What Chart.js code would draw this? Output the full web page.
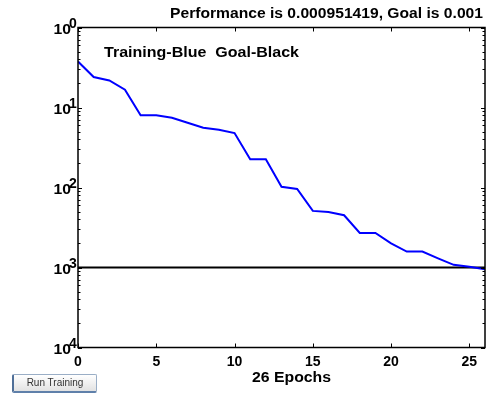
<!DOCTYPE html>
<html>
<head>
<meta charset="utf-8">
<script src="https://cdn.jsdelivr.net/npm/chart.js@4"></script>
<style>
  body { margin: 0; background: #fff; }
  #wrap { position: relative; width: 488px; height: 397px; }
  #runBtn {
    position: absolute; left: 12px; top: 374px; width: 85px; height: 19px;
    border: 1px solid #9aaec6; border-left: 2px solid #4f6f98; border-bottom: 2px solid #5f80aa;
    border-radius: 2px;
    background: linear-gradient(#ffffff, #e2e2e2);
    font: 10px "Liberation Sans", Arial, sans-serif; color: #333;
    text-align: center; line-height: 16px; box-sizing: border-box;
  }
</style>
</head>
<body>
<div id="wrap">
  <canvas id="perfChart" width="488" height="397"></canvas>
  <div id="runBtn">Run Training</div>
</div>
<script>
// data
const epochs = [0, 1, 2, 3, 4, 5, 6, 7, 8, 9, 10, 11, 12, 13, 14, 15, 16, 17, 18, 19, 20, 21, 22, 23, 24, 25, 26];
const performance = [0.376, 0.24, 0.218, 0.167, 0.080, 0.080, 0.0745, 0.0646, 0.056, 0.0528, 0.0479,
  0.0225, 0.0225, 0.0102, 0.0096, 0.0051, 0.00495, 0.0045, 0.0027, 0.0027, 0.0020,
  0.00158, 0.00158, 0.0013, 0.00108, 0.00102, 0.000951419];
const goalValue = 0.001;
const xTicks = [0, 5, 10, 15, 20, 25];
const yTicks = [1, 0.1, 0.01, 0.001, 0.0001];
const yExponents = ["0", "1", "2", "3", "4"];
const titleText = "Performance is 0.000951419, Goal is 0.001";
const legendText = "Training-Blue  Goal-Black";
const xLabel = "26 Epochs";

const FONT = '"Liberation Sans", Arial, sans-serif';

// draw text stretched to span [left, right]
function fitText(ctx, text, left, right, y) {
  const w = ctx.measureText(text).width;
  ctx.save();
  ctx.textAlign = "left";
  ctx.translate(left, y);
  ctx.scale((right - left) / w, 1);
  ctx.fillText(text, 0, 0);
  ctx.restore();
}

// MATLAB style box, inward ticks and labels
const matlabAxes = {
  id: "matlabAxes",
  afterDraw(chart) {
    const ctx = chart.ctx;
    const a = chart.chartArea;
    const x = chart.scales.x;
    const y = chart.scales.y;
    ctx.save();
    ctx.strokeStyle = "#000";
    ctx.fillStyle = "#000";
    ctx.lineWidth = 1.5;
    ctx.strokeRect(a.left, a.top, a.right - a.left, a.bottom - a.top);

    ctx.lineWidth = 1;
    ctx.beginPath();
    xTicks.forEach(function (t) {
      const px = Math.round(x.getPixelForValue(t)) + 0.5;
      ctx.moveTo(px, a.bottom); ctx.lineTo(px, a.bottom - 4);
      ctx.moveTo(px, a.top); ctx.lineTo(px, a.top + 4);
    });
    yTicks.forEach(function (t, i) {
      const py = Math.round(y.getPixelForValue(t)) + 0.5;
      ctx.moveTo(a.left, py); ctx.lineTo(a.left + 4, py);
      ctx.moveTo(a.right, py); ctx.lineTo(a.right - 4, py);
      if (i > 0) {
        for (let m = 2; m <= 9; m++) {
          const pm = Math.round(y.getPixelForValue(t * m)) + 0.5;
          ctx.moveTo(a.left, pm); ctx.lineTo(a.left + 2.5, pm);
          ctx.moveTo(a.right, pm); ctx.lineTo(a.right - 2.5, pm);
        }
      }
    });
    ctx.stroke();

    ctx.font = "bold 14px " + FONT;
    ctx.textAlign = "center";
    ctx.textBaseline = "middle";
    xTicks.forEach(function (t) {
      ctx.fillText(String(t), x.getPixelForValue(t), a.bottom + 15);
    });
    yTicks.forEach(function (t, i) {
      const py = y.getPixelForValue(t);
      fitText(ctx, "10", 53.5, 71, py + 3);
      ctx.textAlign = "left";
      ctx.fillText(yExponents[i], 69, py - 3);
    });

    fitText(ctx, xLabel, 252, 331, 378);
    fitText(ctx, titleText, 170, 483, 14.5);

    ctx.font = "bold 14.5px " + FONT;
    fitText(ctx, legendText, 104, 299, 52.5);
    ctx.restore();
  },
};

new Chart(document.getElementById("perfChart"), {
  type: "line",
  data: {
    datasets: [
      {
        label: "Training",
        data: epochs.map((e, i) => ({ x: e, y: performance[i] })),
        borderColor: "#0000ff",
        borderWidth: 2,
        pointRadius: 0,
        tension: 0,
        fill: false,
      },
      {
        label: "Goal",
        data: [{ x: epochs[0], y: goalValue }, { x: epochs[epochs.length - 1], y: goalValue }],
        borderColor: "#000000",
        borderWidth: 2,
        pointRadius: 0,
        fill: false,
      },
    ],
  },
  options: {
    responsive: false,
    animation: false,
    layout: { padding: { left: 78, right: 3, top: 27.5, bottom: 49.5 } },
    plugins: { legend: { display: false }, tooltip: { enabled: false } },
    scales: {
      x: { type: "linear", min: 0, max: 26, display: false },
      y: { type: "logarithmic", min: 0.0001, max: 1, display: false },
    },
  },
  plugins: [matlabAxes],
});
</script>
</body>
</html>
